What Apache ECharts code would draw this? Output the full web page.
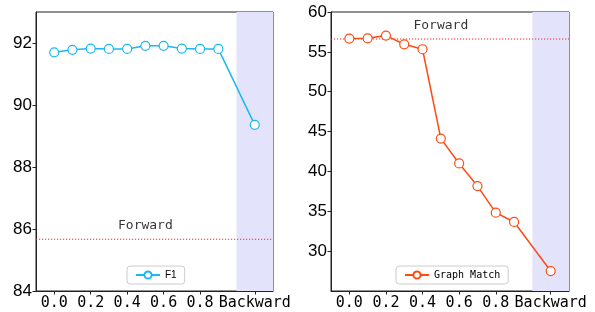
<!DOCTYPE html>
<html>
<head>
<meta charset="utf-8">
<script src="https://cdn.jsdelivr.net/npm/echarts@6/dist/echarts.min.js"></script>
<style>
  html, body { margin: 0; padding: 0; background: #fff; }
  #chart { width: 595px; height: 312px; }
</style>
</head>
<body>
<div id="chart"></div>
<script>
// x positions of the category axis (Backward sits at 1.1)
var xCats = ['-0.1', '0.0', '0.1', '0.2', '0.3', '0.4', '0.5', '0.6', '0.7', '0.8', '0.9', '1.0', 'Backward', '1.2'];
var xTickLabels = ['0.0', '0.2', '0.4', '0.6', '0.8', 'Backward'];
var xPoints = ['0.0', '0.1', '0.2', '0.3', '0.4', '0.5', '0.6', '0.7', '0.8', '0.9', 'Backward'];

var f1 = [91.70, 91.78, 91.82, 91.81, 91.81, 91.91, 91.91, 91.82, 91.81, 91.81, 89.36];
var graphMatch = [56.66, 56.70, 57.04, 55.95, 55.33, 44.12, 41.00, 38.16, 34.83, 33.66, 27.50];

var forwardF1 = 85.67;
var forwardGM = 56.62;

var myChart = echarts.init(document.getElementById('chart'));

function pairs(vals) {
    return xPoints.map(function (x, i) { return [x, vals[i]]; });
}

function xAxisFor(idx) {
    return {
        type: 'category',
        gridIndex: idx,
        data: xCats,
        boundaryGap: false,
        axisLine: { lineStyle: { color: '#222', width: 1 } },
        axisTick: {
            length: 3.5,
            lineStyle: { color: '#222' },
            interval: function (i, v) { return xTickLabels.indexOf(v) >= 0; }
        },
        axisLabel: {
            interval: function (i, v) { return xTickLabels.indexOf(v) >= 0; },
            color: '#000',
            fontFamily: 'DejaVu Sans Mono',
            fontSize: 15,
            margin: 5
        },
        splitLine: { show: false }
    };
}

function yAxisFor(idx, min, max, interval) {
    return {
        type: 'value',
        gridIndex: idx,
        min: min,
        max: max,
        interval: interval,
        axisLine: { show: true, lineStyle: { color: '#222', width: 1 } },
        axisTick: { show: true, length: 3.5, lineStyle: { color: '#222' } },
        axisLabel: {
            color: '#000',
            fontFamily: 'Liberation Sans',
            fontSize: 17,
            margin: 4,
            showMinLabel: idx === 0,
            showMaxLabel: idx === 1
        },
        splitLine: { show: false }
    };
}

// dotted "Forward" reference line, its caption and the shaded Backward band
function forwardSeries(idx, yVal) {
    return {
        type: 'line',
        xAxisIndex: idx,
        yAxisIndex: idx,
        z: 1,
        silent: true,
        symbol: 'none',
        data: [[xCats[0], yVal], [xCats[xCats.length - 1], yVal]],
        lineStyle: { color: '#ee2a2a', type: [1.2, 1.8], width: 1.1 },
        markArea: {
            silent: true,
            itemStyle: { color: '#e3e3fb' },
            data: [[{ xAxis: '1.0' }, { xAxis: '1.2' }]]
        }
    };
}

function captionSeries(idx, yVal) {
    return {
        type: 'scatter',
        xAxisIndex: idx,
        yAxisIndex: idx,
        z: 1,
        silent: true,
        symbolSize: 0,
        data: [['0.5', yVal]],
        label: {
            show: true,
            position: 'top',
            distance: 7,
            formatter: 'Forward',
            color: '#000',
            fontFamily: 'DejaVu Sans Mono',
            fontSize: 13
        }
    };
}

function lineSeries(idx, name, vals, color) {
    return {
        name: name,
        type: 'line',
        xAxisIndex: idx,
        yAxisIndex: idx,
        z: 3,
        data: pairs(vals),
        symbol: 'circle',
        symbolSize: 9,
        showAllSymbol: true,
        lineStyle: { color: color, width: 1.5 },
        itemStyle: { color: '#fff', borderColor: color, borderWidth: 1.2 }
    };
}

var option = {
    animation: false,
    grid: [
        { left: 36, right: 322, top: 12, bottom: 21, show: true, borderColor: '#222', borderWidth: 1 },
        { left: 331, right: 26, top: 12, bottom: 21, show: true, borderColor: '#222', borderWidth: 1 }
    ],
    legend: [
        {
            data: ['F1'], left: 127, top: 266,
            padding: [4, 8], itemWidth: 24, itemHeight: 9, itemGap: 6,
            borderColor: '#ccc', borderWidth: 1, borderRadius: 3, backgroundColor: '#fff',
            textStyle: { fontFamily: 'Liberation Sans', fontSize: 10, color: '#000' }
        },
        {
            data: ['Graph Match'], left: 396, top: 266,
            padding: [4, 8], itemWidth: 24, itemHeight: 9, itemGap: 6,
            borderColor: '#ccc', borderWidth: 1, borderRadius: 3, backgroundColor: '#fff',
            textStyle: { fontFamily: 'DejaVu Sans Mono', fontSize: 10, color: '#000' }
        }
    ],
    xAxis: [xAxisFor(0), xAxisFor(1)],
    yAxis: [yAxisFor(0, 84, 93, 2), yAxisFor(1, 25, 60, 5)],
    series: [
        forwardSeries(0, forwardF1),
        captionSeries(0, forwardF1),
        lineSeries(0, 'F1', f1, '#1bb8f0'),
        forwardSeries(1, forwardGM),
        captionSeries(1, forwardGM),
        lineSeries(1, 'Graph Match', graphMatch, '#ff4a12')
    ]
};

myChart.setOption(option);
</script>
</body>
</html>
